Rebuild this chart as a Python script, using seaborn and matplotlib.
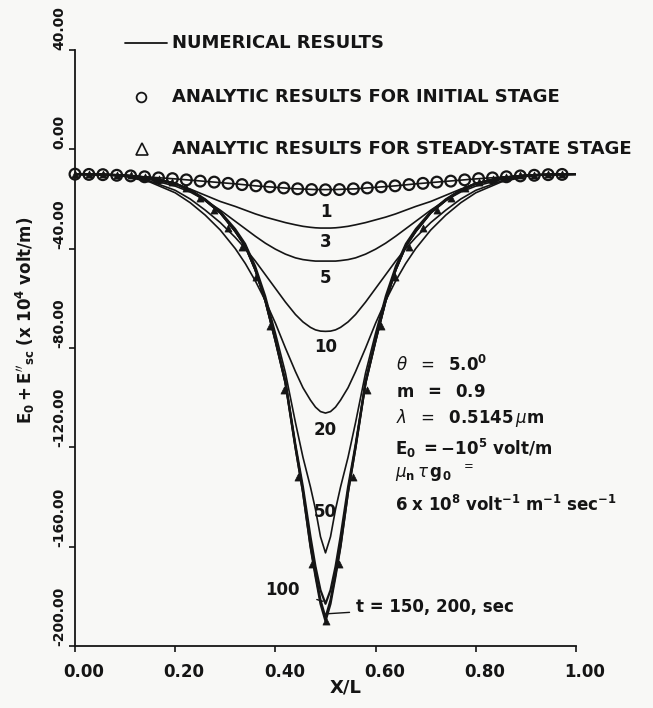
import numpy as np
import pandas as pd
import matplotlib
matplotlib.use("Agg")
import matplotlib.pyplot as plt
import seaborn as sns
from matplotlib.lines import Line2D
from matplotlib.transforms import ScaledTranslation

sns.set_theme(style="ticks")
plt.rcParams["font.family"] = ["DejaVu Sans"]
plt.rcParams["mathtext.fontset"] = "dejavusans"

INK = "#151515"
PAPER = "#f8f8f6"

# distance from the beam centre (x/L = 0.5) at which each half profile is read
dist = [0.50, 0.45, 0.40, 0.35, 0.30, 0.27, 0.24, 0.21, 0.18, 0.16,
        0.14, 0.12, 0.10, 0.08, 0.06, 0.045, 0.03, 0.02, 0.01, 0.0]

# numerical results, E0 + E''sc (x 10^4 volt/m), one half profile per time (sec)
times = [1, 3, 5, 10, 20, 50, 100, 150, 200]
prof_t1 = [-10.0, -10.2, -10.6, -11.2, -11.9, -12.4, -12.9, -13.4, -13.9, -14.3,
           -14.7, -15.0, -15.3, -15.6, -15.9, -16.0, -16.1, -16.2, -16.2, -16.2]
prof_t3 = [-10.0, -10.1, -10.6, -11.8, -14.0, -16.0, -18.5, -21.0, -23.0, -24.5,
           -26.0, -27.3, -28.4, -29.5, -30.4, -31.0, -31.4, -31.6, -31.7, -31.7]
prof_t5 = [-10.0, -10.1, -10.7, -12.2, -14.8, -17.2, -20.5, -24.5, -29.0, -32.0,
           -35.0, -37.8, -40.2, -42.2, -43.7, -44.4, -44.8, -45.0, -45.0, -45.0]
prof_t10 = [-10.0, -10.1, -10.8, -12.8, -16.5, -20.0, -24.5, -29.5, -35.5, -40.0,
            -45.0, -50.5, -56.0, -61.5, -66.5, -69.5, -71.7, -72.7, -73.2, -73.3]
prof_t20 = [-10.0, -10.1, -10.9, -13.2, -17.5, -21.5, -26.5, -32.5, -40.0, -46.0,
            -53.0, -61.0, -70.0, -80.0, -89.5, -96.0, -101.0, -103.8, -105.6, -106.2]
prof_t50 = [-10.0, -10.1, -10.5, -11.4, -13.6, -16.2, -20.0, -25.0, -32.0, -38.0,
            -47.0, -59.0, -74.0, -90.0, -110.0, -124.0, -136.0, -145.0, -156.0, -162.5]
prof_t100 = [-10.0, -10.1, -10.5, -11.5, -13.8, -16.5, -20.5, -25.5, -33.0, -39.0,
             -48.5, -61.0, -76.5, -93.5, -119.0, -136.0, -156.0, -168.0, -177.5, -183.0]
prof_t150 = [-10.0, -10.1, -10.5, -11.5, -13.8, -16.5, -20.5, -25.5, -33.0, -39.0,
             -48.5, -61.0, -77.0, -94.0, -120.0, -138.0, -159.5, -171.0, -181.5, -188.5]
prof_t200 = [-10.0, -10.1, -10.5, -11.5, -13.8, -16.5, -20.5, -25.5, -33.0, -39.0,
             -48.5, -61.0, -77.0, -94.0, -120.0, -138.0, -160.0, -172.0, -183.0, -190.0]
profiles = [prof_t1, prof_t3, prof_t5, prof_t10, prof_t20, prof_t50,
            prof_t100, prof_t150, prof_t200]

# analytic results, sampled at x/L = k/36
marker_x = np.arange(36) / 36
initial_stage = [-10.0, -10.1, -10.2, -10.45, -10.7, -11.05, -11.5, -11.8, -12.3,
                 -12.8, -13.2, -13.7, -14.2, -14.7, -15.1, -15.55, -15.9, -16.2,
                 -16.3, -16.2, -15.9, -15.55, -15.1, -14.7, -14.2, -13.7, -13.2,
                 -12.8, -12.3, -11.8, -11.5, -11.05, -10.7, -10.45, -10.2, -10.1]
steady_state = [-10.0, -10.05, -10.1, -10.3, -10.5, -11.0, -11.9, -13.2, -15.5,
                -19.5, -24.5, -31.5, -39.5, -51.5, -71.0, -97.0, -132.0, -167.0,
                -190.0, -167.0, -132.0, -97.0, -71.0, -51.5, -39.5, -31.5, -24.5,
                -19.5, -15.5, -13.2, -11.9, -11.0, -10.5, -10.3, -10.1, -10.05]

xtick_vals = [0.0, 0.2, 0.4, 0.6, 0.8, 1.0]
xtick_labels = ["0.00", "0.20", "0.40", "0.60", "0.80", "1.00"]
ytick_vals = [-200, -160, -120, -80, -40, 0, 40]
ytick_labels = ["-200.00", "-160.00", "-120.00", "-80.00", "-40.00", "0.00", "40.00"]

# long table of the numerical curves
d = np.array(dist)
rows = []
for t, prof in zip(times, profiles):
    xs = np.concatenate([0.5 - d, 0.5 + d[::-1][1:]])
    es = np.concatenate([np.array(prof), np.array(prof[::-1][1:])])
    rows.append(pd.DataFrame({"x": xs, "E": es, "t": t}))
curves = pd.concat(rows, ignore_index=True)

W, H = 653, 708
fig = plt.figure(figsize=(W / 100, H / 100), dpi=100)
fig.patch.set_facecolor(PAPER)


def fx(px):
    return px / W


def fy(py):
    return 1 - py / H


ax = fig.add_axes([fx(75), fy(646), (576 - 75) / W, (646 - 50) / H])
ax.set_facecolor("none")

thin = curves[curves["t"] <= 50]
thick = curves[curves["t"] >= 100]
sns.lineplot(data=thin, x="x", y="E", units="t", estimator=None, sort=False,
             color=INK, lw=1.2, ax=ax, legend=False)
sns.lineplot(data=thick, x="x", y="E", units="t", estimator=None, sort=False,
             color=INK, lw=1.6, ax=ax, legend=False)

sns.scatterplot(x=marker_x, y=steady_state, marker="^", s=26, color=INK,
                edgecolor=INK, linewidth=0.5, ax=ax, clip_on=False, zorder=4)
sns.scatterplot(x=marker_x, y=initial_stage, marker="o", s=60, facecolor="none",
                edgecolor=INK, linewidth=1.6, ax=ax, clip_on=False, zorder=5)

ax.set_xlim(0, 1)
ax.set_ylim(-200, 40)
ax.set_xticks(xtick_vals)
ax.set_xticklabels(xtick_labels, fontsize=12, fontweight="bold", color=INK)
ax.set_yticks(ytick_vals)
ax.set_yticklabels(ytick_labels, fontsize=10, fontweight="bold", color=INK,
                   rotation=90)
ax.tick_params(axis="both", direction="out", length=4, width=1.2, color=INK)
ax.tick_params(axis="x", pad=8)
ax.tick_params(axis="y", pad=2)
for lab in ax.get_yticklabels():
    lab.set_verticalalignment("bottom")
    lab.set_horizontalalignment("right")
# the x tick numbers sit a little to the right of their ticks
shift = ScaledTranslation(0.09, 0, fig.dpi_scale_trans)
for tick in ax.xaxis.get_major_ticks():
    tick.label1.set_transform(tick.label1.get_transform() + shift)
ax.set_xlabel("")
ax.set_ylabel("")
sns.despine(ax=ax)
for side in ("left", "bottom"):
    ax.spines[side].set_linewidth(1.3)
    ax.spines[side].set_color(INK)

# axis titles
fig.text(fx(346), fy(688), "X/L", fontsize=13, fontweight="bold", color=INK,
         ha="center", va="center")
fig.text(fx(25), fy(320), r"$\mathbf{E_0 + E''_{sc}\ (x\ 10^4\ volt/m)}$",
         fontsize=12, color=INK, rotation=90, ha="center", va="center")

# key
fig.add_artist(Line2D([fx(125), fx(167)], [fy(43), fy(43)], color=INK, lw=1.3,
                      transform=fig.transFigure))
fig.add_artist(Line2D([fx(141)], [fy(97)], marker="o", ms=7, mfc="none", mec=INK,
                      mew=1.3, transform=fig.transFigure))
fig.add_artist(Line2D([fx(142)], [fy(149)], marker="^", ms=9, mfc="none", mec=INK,
                      mew=1.2, transform=fig.transFigure))
key_font = dict(fontsize=13, fontweight="bold", color=INK, ha="left", va="center")
fig.text(fx(172), fy(43), "NUMERICAL RESULTS", **key_font)
fig.text(fx(172), fy(97), "ANALYTIC RESULTS FOR INITIAL STAGE", **key_font)
fig.text(fx(172), fy(149), "ANALYTIC RESULTS FOR STEADY-STATE STAGE", **key_font)

# time labels on the curves
lab_font = dict(fontsize=12, fontweight="bold", color=INK, ha="center", va="center")
ax.text(0.5, -25.2, "1", **lab_font)
ax.text(0.5, -37.3, "3", **lab_font)
ax.text(0.5, -51.8, "5", **lab_font)
ax.text(0.5, -79.6, "10", **lab_font)
ax.text(0.5, -113.0, "20", **lab_font)
ax.text(0.5, -146.0, "50", **lab_font)
ax.annotate("100", xy=(0.495, -182.0), xytext=(0.415, -177.4),
            arrowprops=dict(arrowstyle="-", color=INK, lw=1.0, shrinkA=10, shrinkB=0),
            **lab_font)
ax.annotate("t = 150, 200, sec", xy=(0.505, -187.0), xytext=(0.56, -184.3),
            arrowprops=dict(arrowstyle="-", color=INK, lw=1.0, shrinkA=2, shrinkB=0),
            fontsize=12, fontweight="bold", color=INK, ha="left", va="center")

# parameter block
par = dict(fontsize=12, color=INK, ha="left", va="center")
fig.text(fx(396), fy(365), r"$\theta\ \ =\ \ \mathbf{5.0^{0}}$", **par)
fig.text(fx(396), fy(392), r"$\mathbf{m\ \ =\ \ 0.9}$", **par)
fig.text(fx(396), fy(418), r"$\lambda\ \ =\ \ \mathbf{0.5145}\,\mu\mathbf{m}$", **par)
fig.text(fx(395), fy(448), r"$\mathbf{E_0\ =-10^5\ volt/m}$", **par)
fig.text(fx(395), fy(473), r"$\mu_\mathbf{n}\,\tau\,\mathbf{g_0}\ \ ^=$", **par)
fig.text(fx(395), fy(505), r"$\mathbf{6\ x\ 10^8\ volt^{-1}\ m^{-1}\ sec^{-1}}$", **par)

fig.savefig("out.png", dpi=100, facecolor=PAPER)
